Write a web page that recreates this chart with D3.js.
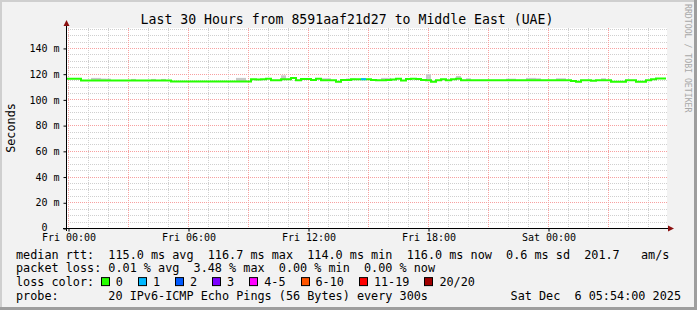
<!DOCTYPE html>
<html>
<head>
<meta charset="utf-8">
<script src="https://cdn.jsdelivr.net/npm/d3@7"></script>
<style>
html, body { margin: 0; padding: 0; background: #f2f2f2; }
svg { display: block; font-family: "DejaVu Sans Mono", monospace; }
text { white-space: pre; }
</style>
</head>
<body>
<svg id="chart" width="697" height="310"></svg>
<script>
// ---- data ----
const title = 'Last 30 Hours from 8591aaf21d27 to Middle East (UAE)';
const startTime = new Date(2025, 11, 4, 23, 54);   // Thu 23:54
const endTime = new Date(2025, 11, 6, 5, 54);      // Sat 05:54
const binMinutes = 15;

// median rtt (ms), one value per 15 minute bin
const medianRtt = [
  116.1, 116.1, 116.1,
  114.6, 114.6, 114.6, 114.6, 114.6, 114.6, 114.6, 114.6, 114.6,
  114.6, 114.6, 114.6, 114.6, 114.6, 114.6, 114.6, 114.6, 114.6,
  113.9, 113.9, 113.9, 113.9, 113.9, 113.9, 113.9, 113.9,
  113.9, 113.9, 113.9, 113.9, 113.9, 113.9, 113.9, 113.9,
  115.7, 115.4, 115.7, 116.1, 114.9, 114.9, 115.7, 115.7, 116.7, 114.9,
  115.9, 115.9, 115.1, 116.1, 114.9, 114.9, 114.9, 113.8, 115.1, 115.1,
  115.7, 115.7, 115.7, 115.7, 115.1, 114.9, 114.9, 115.1, 115.4, 116.1,
  114.7, 115.9, 116.1, 115.9, 115.1, 114.9, 113.8, 114.9, 115.7, 114.9,
  115.7, 116.1,
  114.8, 114.8, 114.8, 114.8, 114.8, 114.8, 114.8, 114.8, 114.8, 114.8, 114.8,
  114.8, 114.8, 114.8, 114.8, 114.8, 114.8, 114.8, 114.8, 114.8, 114.8, 114.8,
  114.3, 113.8, 114.8, 114.8, 114.5, 114.8, 114.8, 114.8,
  113.8, 113.8, 113.8, 114.8, 114.8, 113.8, 113.8,
  114.8, 115.6, 116.3, 116.3
];

// smoke: bins where the ping spread shows above the median, and its top (ms)
const smokeBins = [5, 6, 7, 8, 13, 17, 19, 34, 35, 43, 51, 52, 56, 57, 63, 64, 72, 78, 80, 88, 89, 92, 93, 94, 98, 99, 107];
const smokeTop = [116.7, 116.7, 116.2, 116.1, 115.9, 115.9, 115.9, 116.7, 116.7, 118.7, 116.4, 116.4, 116.2, 116.2,
                  116.7, 116.7, 119.5, 118.2, 116.4, 116.1, 116.1, 116.7, 116.7, 116.4, 116.4, 116.4, 116.4];

// bins with lost packets (count out of 20)
const lossBins = [59];
const lossCount = [1];

const yTicks = [0, 20, 40, 60, 80, 100, 120, 140];
const yMax = 155.5;

const lossLabels = ['0', '1', '2', '3', '4-5', '6-10', '11-19', '20/20'];
const lossColors = ['#26ff00', '#00b8ff', '#0059ff', '#7e00ff', '#ff00ff', '#ff5500', '#ff0000', '#a00000'];

const legendRows = [
  'median rtt:  115.0 ms avg  116.7 ms max  114.0 ms min  116.0 ms now  0.6 ms sd  201.7   am/s',
  'packet loss: 0.01 % avg  3.48 % max  0.00 % min  0.00 % now',
  'loss color:',
  'probe:       20 IPv6-ICMP Echo Pings (56 Bytes) every 300s'
];
const stampText = 'Sat Dec  6 05:54:00 2025';
const watermark = 'RRDTOOL / TOBI OETIKER';

// ---- layout ----
const W = 697, H = 310;
const plot = { left: 66, right: 666, top: 28, bottom: 228 };
const charW = 7.1;

const svg = d3.select('#chart');

const x = d3.scaleTime().domain([startTime, endTime]).range([plot.left, plot.right]);
const y = d3.scaleLinear().domain([0, yMax]).range([plot.bottom, plot.top]);

const binTime = i => d3.timeMinute.offset(startTime, i * binMinutes);

// background + canvas
svg.append('rect').attr('width', W).attr('height', H).attr('fill', '#f2f2f2');
svg.append('rect')
  .attr('x', plot.left).attr('y', plot.top)
  .attr('width', plot.right - plot.left + 1).attr('height', plot.bottom - plot.top)
  .attr('fill', '#ffffff');

// grid
const grid = svg.append('g');
const minorY = d3.range(5, yMax, 5).filter(v => v % 20 !== 0);
const majorY = d3.range(20, yMax, 20);
const hours = d3.timeHour.range(d3.timeHour.ceil(startTime), endTime);

grid.selectAll('.hminor').data(minorY).join('line')
  .attr('x1', plot.left).attr('x2', plot.right + 1)
  .attr('y1', d => Math.round(y(d)) + 0.5).attr('y2', d => Math.round(y(d)) + 0.5)
  .attr('stroke', '#cfcfcf').attr('stroke-dasharray', '1,1');
grid.selectAll('.vminor').data(hours.filter(d => d.getHours() % 3 !== 0)).join('line')
  .attr('x1', d => Math.round(x(d)) + 0.5).attr('x2', d => Math.round(x(d)) + 0.5)
  .attr('y1', plot.top).attr('y2', plot.bottom)
  .attr('stroke', '#cfcfcf').attr('stroke-dasharray', '1,1');
grid.selectAll('.hmajor').data(majorY).join('line')
  .attr('x1', plot.left).attr('x2', plot.right + 1)
  .attr('y1', d => Math.round(y(d)) + 0.5).attr('y2', d => Math.round(y(d)) + 0.5)
  .attr('stroke', '#f7a0a0').attr('stroke-dasharray', '1,1');
grid.selectAll('.vmajor').data(hours.filter(d => d.getHours() % 3 === 0)).join('line')
  .attr('x1', d => Math.round(x(d)) + 0.5).attr('x2', d => Math.round(x(d)) + 0.5)
  .attr('y1', plot.top).attr('y2', plot.bottom)
  .attr('stroke', '#f7a0a0').attr('stroke-dasharray', '1,1');

// smoke
svg.append('g').selectAll('rect').data(smokeBins).join('rect')
  .attr('x', d => x(binTime(d)))
  .attr('width', d => x(binTime(d + 1)) - x(binTime(d)))
  .attr('y', (d, i) => y(smokeTop[i]))
  .attr('height', (d, i) => y(medianRtt[d]) - y(smokeTop[i]))
  .attr('fill', '#c8c8c8');

// median line
const pts = medianRtt.map((v, i) => ({ t: binTime(i), v }));
pts.push({ t: endTime, v: medianRtt[medianRtt.length - 1] });
const line = d3.line().x(d => x(d.t)).y(d => y(d.v)).curve(d3.curveStepAfter);
svg.append('path').datum(pts)
  .attr('d', line).attr('fill', 'none')
  .attr('stroke', lossColors[0]).attr('stroke-width', 2);

// loss coloured bins on top
svg.append('g').selectAll('line').data(lossBins).join('line')
  .attr('x1', d => x(binTime(d))).attr('x2', d => x(binTime(d + 1)))
  .attr('y1', d => y(medianRtt[d])).attr('y2', d => y(medianRtt[d]))
  .attr('stroke', (d, i) => lossColors[lossCount[i]]).attr('stroke-width', 2);

// axes
const yAxis = d3.axisLeft(y).tickValues(yTicks).tickSize(3).tickPadding(4)
  .tickFormat(d => d === 0 ? '0  ' : d + ' m');
const gy = svg.append('g').attr('transform', `translate(${plot.left + 0.5},0.5)`).call(yAxis);
gy.select('.domain').remove();
gy.selectAll('text').attr('font-family', 'DejaVu Sans Mono').attr('font-size', 10).attr('fill', '#000')
  .attr('dy', d => d === 0 ? '0.15em' : '0.32em');
gy.selectAll('line').attr('stroke', '#000');

const xAxis = d3.axisBottom(x).ticks(d3.timeHour.every(6)).tickSize(3).tickPadding(2.5)
  .tickFormat(d3.timeFormat('%a %H:%M'));
const gx = svg.append('g').attr('transform', `translate(0.5,${plot.bottom + 0.5})`).call(xAxis);
gx.select('.domain').remove();
gx.selectAll('text').attr('font-family', 'DejaVu Sans Mono').attr('font-size', 10).attr('fill', '#000');
gx.selectAll('line').attr('stroke', '#000');

// axis lines with arrows
svg.append('line')
  .attr('x1', plot.left + 0.5).attr('x2', plot.left + 0.5)
  .attr('y1', plot.bottom + 3).attr('y2', plot.top - 5)
  .attr('stroke', '#000');
svg.append('line')
  .attr('x1', plot.left - 3).attr('x2', plot.right + 5)
  .attr('y1', plot.bottom + 0.5).attr('y2', plot.bottom + 0.5)
  .attr('stroke', '#000');
svg.append('path')
  .attr('d', `M${plot.left - 2.5},${plot.top - 2} L${plot.left + 0.5},${plot.top - 8} L${plot.left + 3.5},${plot.top - 2} Z`)
  .attr('fill', '#8b1010');
svg.append('path')
  .attr('d', `M${plot.right + 2},${plot.bottom - 2.5} L${plot.right + 8},${plot.bottom + 0.5} L${plot.right + 2},${plot.bottom + 3.5} Z`)
  .attr('fill', '#8b1010');

// title
svg.append('text')
  .attr('x', W / 2 - 1.5).attr('y', 23.5)
  .attr('text-anchor', 'middle')
  .attr('font-size', 13.2).attr('fill', '#000')
  .text(title);

// y label
svg.append('text')
  .attr('transform', `translate(15,${(plot.top + plot.bottom) / 2}) rotate(-90)`)
  .attr('text-anchor', 'middle')
  .attr('font-size', 11.8).attr('fill', '#000')
  .text('Seconds');

// watermark
svg.append('text')
  .attr('transform', `translate(685,4) rotate(90)`)
  .attr('font-size', 8.2).attr('fill', '#a8a8a8')
  .text(watermark);

// legend
const legendX = 16, legendY0 = 258.5, rowStep = 13.8;
const lg = svg.append('g').attr('font-size', 11.8).attr('fill', '#000');
lg.selectAll('text.row').data(legendRows).join('text')
  .attr('class', 'row')
  .attr('x', legendX).attr('y', (d, i) => legendY0 + i * rowStep)
  .text(d => d);
lg.append('text')
  .attr('x', 681).attr('y', legendY0 + 3 * rowStep)
  .attr('text-anchor', 'end')
  .text(stampText);

// loss colour swatches, laid out after "loss color:"
let cursor = legendX + (legendRows[2].length + 2) * charW - 7.5;
const rowY = legendY0 + 2 * rowStep;
lossLabels.forEach((lab, i) => {
  lg.append('rect')
    .attr('x', Math.round(cursor) + 0.5).attr('y', rowY - 8.5)
    .attr('width', 8).attr('height', 8)
    .attr('fill', lossColors[i]).attr('stroke', '#000');
  lg.append('text').attr('x', cursor + 15).attr('y', rowY).text(lab);
  cursor += 15 + lab.length * charW + 15;
});

// frame shading
svg.append('rect').attr('x', 0).attr('y', 0).attr('width', W).attr('height', 2).attr('fill', '#cfcfcf');
svg.append('rect').attr('x', 0).attr('y', 0).attr('width', 2).attr('height', H).attr('fill', '#cfcfcf');
svg.append('rect').attr('x', W - 3).attr('y', 0).attr('width', 3).attr('height', H).attr('fill', '#9e9e9e');
svg.append('rect').attr('x', 0).attr('y', H - 3).attr('width', W).attr('height', 3).attr('fill', '#9e9e9e');
</script>
</body>
</html>
